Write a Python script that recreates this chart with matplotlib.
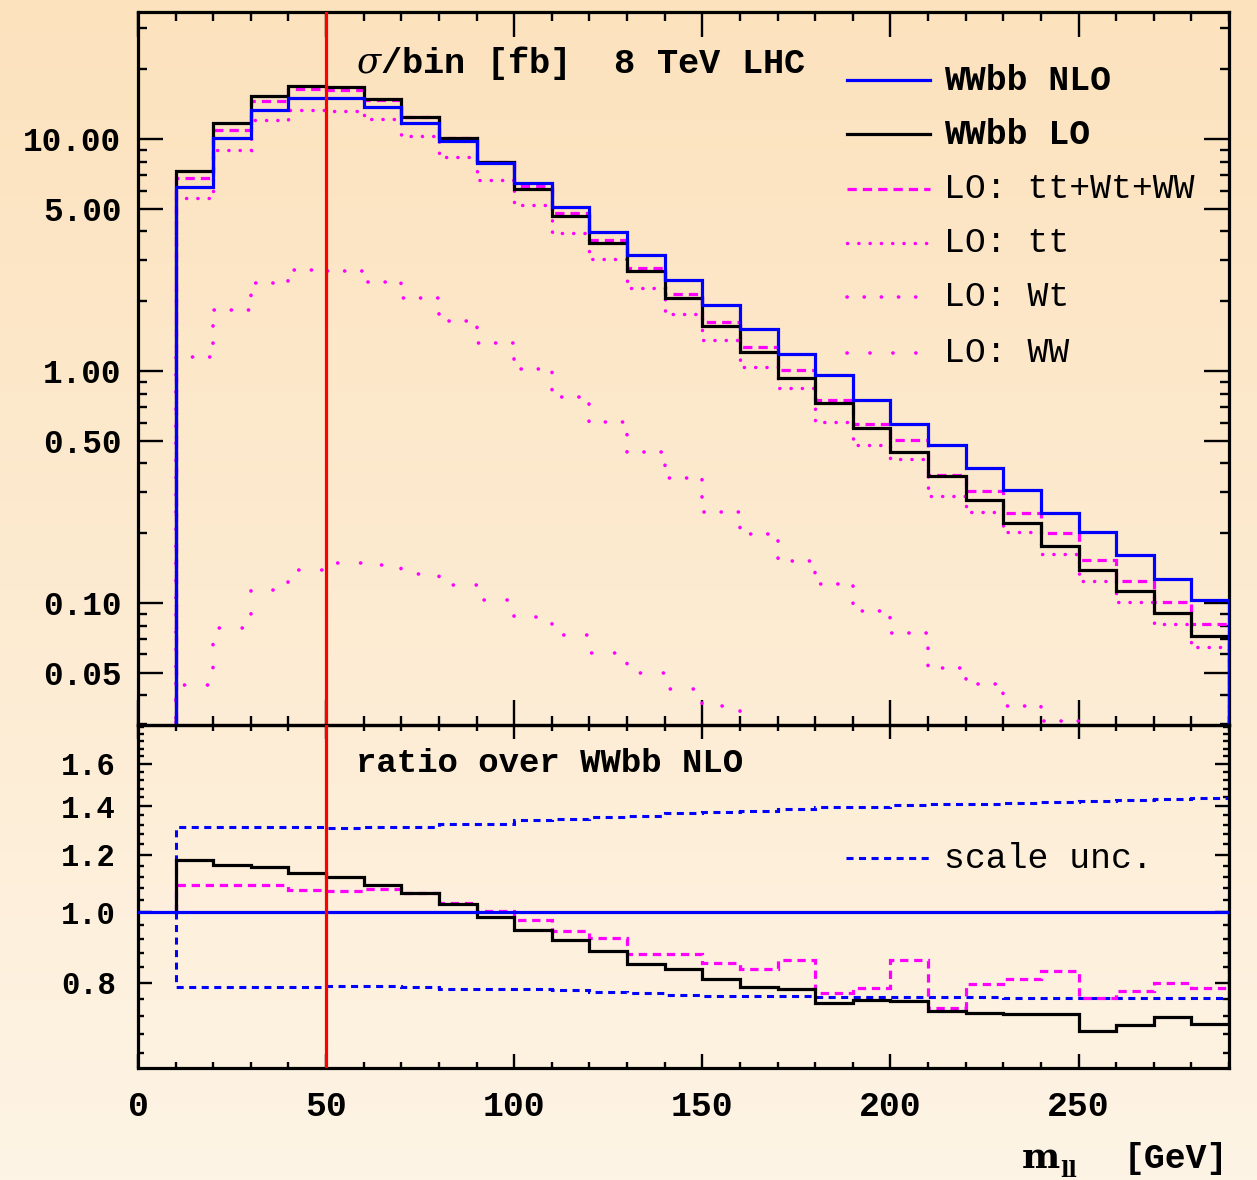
import numpy as np
import matplotlib
matplotlib.use("Agg")
import matplotlib.pyplot as plt
from matplotlib.lines import Line2D
from matplotlib.ticker import FixedLocator, FixedFormatter, NullFormatter

# ---------------- data ----------------
bin_edges = list(range(10, 300, 10))   # 28 bins of 10 GeV from 10 to 290

wwbb_nlo = [6.23, 10.07, 13.3, 15.1, 15.0, 13.7, 11.7, 9.84, 7.9, 6.44,
            5.08, 3.99, 3.15, 2.47, 1.93, 1.52, 1.19, 0.958, 0.748, 0.589,
            0.480, 0.383, 0.307, 0.244, 0.203, 0.161, 0.1265, 0.103]
wwbb_lo = [7.3, 11.7, 15.4, 17.0, 16.7, 14.9, 12.5, 10.07, 7.99, 6.08,
           4.67, 3.57, 2.69, 2.06, 1.567, 1.204, 0.93, 0.726, 0.566, 0.446,
           0.353, 0.278, 0.222, 0.177, 0.1387, 0.1127, 0.0903, 0.0723]
lo_sum = [6.78, 10.9, 14.6, 16.4, 16.3, 14.77, 12.45, 10.15, 7.93, 6.29,
          4.81, 3.69, 2.77, 2.15, 1.63, 1.27, 1.01, 0.748, 0.59, 0.505,
          0.355, 0.305, 0.245, 0.2, 0.153, 0.125, 0.101, 0.0815]
lo_tt = [5.58, 8.97, 12.1, 13.4, 13.2, 12.2, 10.3, 8.4, 6.65, 5.2,
         3.94, 3.03, 2.29, 1.77, 1.355, 1.04, 0.842, 0.604, 0.48, 0.416,
         0.29, 0.248, 0.203, 0.162, 0.125, 0.1007, 0.081, 0.0644]
lo_wt = [1.15, 1.84, 2.40, 2.72, 2.71, 2.43, 2.07, 1.65, 1.32, 1.02,
         0.774, 0.601, 0.447, 0.345, 0.248, 0.198, 0.1517, 0.1208, 0.0927, 0.0745,
         0.0523, 0.0448, 0.036, 0.0311, 0.026, 0.022, 0.018, 0.015]
lo_ww = [0.0444, 0.0778, 0.1135, 0.1387, 0.149, 0.146, 0.1337, 0.12, 0.1033, 0.087,
         0.0727, 0.0607, 0.0498, 0.0425, 0.036, 0.029, 0.024, 0.020, 0.017, 0.014,
         0.012, 0.010, 0.0085, 0.007, 0.006, 0.005, 0.0042, 0.0035]

ratio_lo = [1.18, 1.161, 1.155, 1.134, 1.118, 1.092, 1.063, 1.028, 0.985, 0.946,
            0.917, 0.885, 0.85, 0.836, 0.81, 0.789, 0.785, 0.75, 0.758, 0.756,
            0.733, 0.727, 0.726, 0.726, 0.688, 0.701, 0.719, 0.702]
ratio_sum = [1.092, 1.09, 1.09, 1.075, 1.07, 1.078, 1.064, 1.031, 1.004, 0.977,
             0.942, 0.922, 0.877, 0.877, 0.851, 0.836, 0.859, 0.774, 0.787, 0.861,
             0.739, 0.797, 0.809, 0.83, 0.763, 0.779, 0.799, 0.787]
scale_up = [1.309, 1.31, 1.31, 1.31, 1.305, 1.31, 1.31, 1.323, 1.325, 1.34,
            1.342, 1.351, 1.355, 1.368, 1.375, 1.38, 1.386, 1.394, 1.398, 1.405,
            1.408, 1.41, 1.415, 1.42, 1.422, 1.427, 1.431, 1.435]
scale_dn = [0.789, 0.790, 0.789, 0.789, 0.793, 0.791, 0.789, 0.785, 0.784, 0.784,
            0.783, 0.776, 0.775, 0.770, 0.768, 0.768, 0.767, 0.766, 0.766, 0.765,
            0.764, 0.764, 0.763, 0.763, 0.763, 0.762, 0.762, 0.762]

cut_value = 50

top_major = [0.05, 0.1, 0.5, 1, 5, 10]
top_major_labels = ["0.05", "0.10", "0.50", "1.00", "5.00", "10.00"]
ratio_major = [0.8, 1.0, 1.2, 1.4, 1.6]
ratio_major_labels = ["0.8", "1.0", "1.2", "1.4", "1.6"]
x_major = [0, 50, 100, 150, 200, 250]
x_major_labels = ["0", "50", "100", "150", "200", "250"]

legend_labels = ["WWbb NLO", "WWbb LO", "LO: tt+Wt+WW", "LO: tt", "LO: Wt", "LO: WW"]

# ---------------- figure ----------------
plt.rcParams["mathtext.fontset"] = "dejavuserif"
W, H = 1257, 1180
fig = plt.figure(figsize=(W / 100, H / 100), dpi=100)

def fx(px):
    return px / W

def fy(py):
    return 1 - py / H

# gradient background
bg = fig.add_axes([0, 0, 1, 1], zorder=-10)
top_c = np.array([252, 226, 189]) / 255.0
bot_c = np.array([254, 244, 229]) / 255.0
t = np.linspace(0, 1, 256)[:, None]
grad = top_c[None, :] * (1 - t) + bot_c[None, :] * t
bg.imshow(grad[:, None, :], aspect="auto", extent=[0, 1, 0, 1], origin="upper")
bg.set_axis_off()

L, R = 138, 1229
ax1 = fig.add_axes([fx(L), fy(725), fx(R - L), (725 - 12) / H])
ax2 = fig.add_axes([fx(L), fy(1068), fx(R - L), (1068 - 725) / H])
for a in (ax1, ax2):
    a.set_facecolor("none")
    for s in a.spines.values():
        s.set_linewidth(2.3)
    a.set_xlim(0, 290)

FONT = "Liberation Mono"
BLUE = "#0000ff"
MAG = "#ff00ff"

lw = 2.3
# ---------------- top panel ----------------
ax1.set_yscale("log")
ax1.set_ylim(0.0298, 35.3)
base = 1e-4
ax1.stairs(lo_ww, bin_edges, baseline=base, fill=False, color=MAG, lw=2.6,
           linestyle=(0, (0.05, 6.3)), capstyle="round", zorder=2)
ax1.stairs(lo_wt, bin_edges, baseline=base, fill=False, color=MAG, lw=2.6,
           linestyle=(0, (0.05, 4.7)), capstyle="round", zorder=2)
ax1.stairs(lo_tt, bin_edges, baseline=base, fill=False, color=MAG, lw=2.5,
           linestyle=(0, (0.05, 3.2)), capstyle="round", zorder=2)
ax1.stairs(lo_sum, bin_edges, baseline=base, fill=False, color=MAG, lw=lw,
           linestyle=(0, (2.9, 1.9)), zorder=3)
ax1.stairs(wwbb_lo, bin_edges, baseline=base, fill=False, color="black", lw=lw, zorder=4)
ax1.stairs(wwbb_nlo, bin_edges, baseline=base, fill=False, color=BLUE, lw=lw, zorder=5)
ax1.axvline(cut_value, color="#ff0000", lw=2.3, zorder=6)

minor_top = []
for dec in [0.01, 0.1, 1, 10]:
    for k in range(2, 10):
        v = k * dec
        if k != 5 and 0.0298 < v < 35.3:
            minor_top.append(v)
ax1.yaxis.set_major_locator(FixedLocator(top_major))
ax1.yaxis.set_major_formatter(FixedFormatter(top_major_labels))
ax1.yaxis.set_minor_locator(FixedLocator(minor_top))
ax1.yaxis.set_minor_formatter(NullFormatter())
ax1.xaxis.set_major_locator(FixedLocator(x_major))
ax1.xaxis.set_minor_locator(FixedLocator(list(range(0, 300, 10))))
ax1.tick_params(which="both", direction="in", top=True, right=True, labelbottom=False)
ax1.tick_params(which="major", length=18, width=1.7, pad=12)
ax1.tick_params(which="minor", length=6.5, width=1.7)
for lab in ax1.get_yticklabels():
    lab.set_fontfamily(FONT)
    lab.set_fontweight("bold")
    lab.set_fontsize(23.5)

# ---------------- ratio panel ----------------
ax2.set_yscale("log")
ax2.set_ylim(0.611, 1.81)
ax2.stairs(scale_up, bin_edges, baseline=1.0, fill=False, color=BLUE, lw=2.2,
           linestyle=(0, (2.3, 1.8)), zorder=2)
ax2.stairs(scale_dn, bin_edges, baseline=1.0, fill=False, color=BLUE, lw=2.2,
           linestyle=(0, (2.3, 1.8)), zorder=2)
ax2.stairs(ratio_sum, bin_edges, baseline=1.0, fill=False, color=MAG, lw=2.3,
           linestyle=(0, (2.6, 1.8)), zorder=3)
ax2.stairs(ratio_lo, bin_edges, baseline=1.0, fill=False, color="black", lw=2.3, zorder=4)
ax2.axhline(1.0, color=BLUE, lw=2.3, zorder=5)
ax2.axvline(cut_value, color="#ff0000", lw=2.3, zorder=6)

minor_ratio = [v for v in np.round(np.arange(0.64, 1.81, 0.04), 2) if v not in ratio_major]
ax2.yaxis.set_major_locator(FixedLocator(ratio_major))
ax2.yaxis.set_major_formatter(FixedFormatter(ratio_major_labels))
ax2.yaxis.set_minor_locator(FixedLocator(minor_ratio))
ax2.yaxis.set_minor_formatter(NullFormatter())
ax2.xaxis.set_major_locator(FixedLocator(x_major))
ax2.xaxis.set_major_formatter(FixedFormatter(x_major_labels))
ax2.xaxis.set_minor_locator(FixedLocator(list(range(0, 300, 10))))
ax2.tick_params(which="both", direction="in", top=True, right=True)
ax2.tick_params(which="major", length=10, width=1.7)
ax2.tick_params(which="minor", length=4.5, width=1.7)
ax2.tick_params(axis="y", which="major", pad=16)
ax2.tick_params(axis="x", which="major", pad=16)
for lab in ax2.get_yticklabels():
    lab.set_fontfamily(FONT)
    lab.set_fontweight("bold")
    lab.set_fontsize(22)
for lab in ax2.get_xticklabels():
    lab.set_fontfamily(FONT)
    lab.set_fontweight("bold")
    lab.set_fontsize(25)

# ---------------- texts ----------------
fig.text(fx(356), fy(63), r"$\sigma$/bin [fb]  8 TeV LHC", family=FONT, weight="bold",
         fontsize=25.5, va="center", ha="left")
fig.text(fx(356), fy(764), "ratio over WWbb NLO", family=FONT, weight="bold",
         fontsize=24.5, va="center", ha="left")

# legend (manual)
rows_y = [80, 134, 189, 243, 297, 353]
styles = [
    dict(color=BLUE, lw=lw, linestyle="-"),
    dict(color="black", lw=lw, linestyle="-"),
    dict(color=MAG, lw=lw, linestyle=(0, (2.9, 1.9))),
    dict(color=MAG, lw=2.5, linestyle=(0, (0.05, 3.2)), dash_capstyle="round"),
    dict(color=MAG, lw=2.6, linestyle=(0, (0.05, 4.7)), dash_capstyle="round"),
    dict(color=MAG, lw=2.6, linestyle=(0, (0.05, 6.3)), dash_capstyle="round"),
]
weights = ["bold", "bold", "normal", "normal", "normal", "normal"]
for yy, st, lab, wgt in zip(rows_y, styles, legend_labels, weights):
    fig.add_artist(Line2D([fx(847), fx(930)], [fy(yy), fy(yy)], transform=fig.transFigure, **st))
    fig.text(fx(944), fy(yy), lab, family=FONT, weight=wgt, fontsize=25,
             va="center", ha="left")

fig.add_artist(Line2D([fx(846), fx(930)], [fy(858), fy(858)], transform=fig.transFigure,
                      color=BLUE, lw=2.2, linestyle=(0, (2.3, 1.8))))
fig.text(fx(944), fy(858), "scale unc.", family=FONT, weight="normal", fontsize=25,
         va="center", ha="left")

# x-axis label
fig.text(fx(1022), fy(1168), "m", family="DejaVu Serif", weight="bold", fontsize=26,
         va="baseline", ha="left")
fig.text(fx(1060), fy(1177), "ll", family="DejaVu Serif", weight="bold", fontsize=16,
         va="baseline", ha="left")
fig.text(fx(1124), fy(1168), "[GeV]", family=FONT, weight="bold", fontsize=25,
         va="baseline", ha="left")

fig.savefig("out.png", dpi=100)
